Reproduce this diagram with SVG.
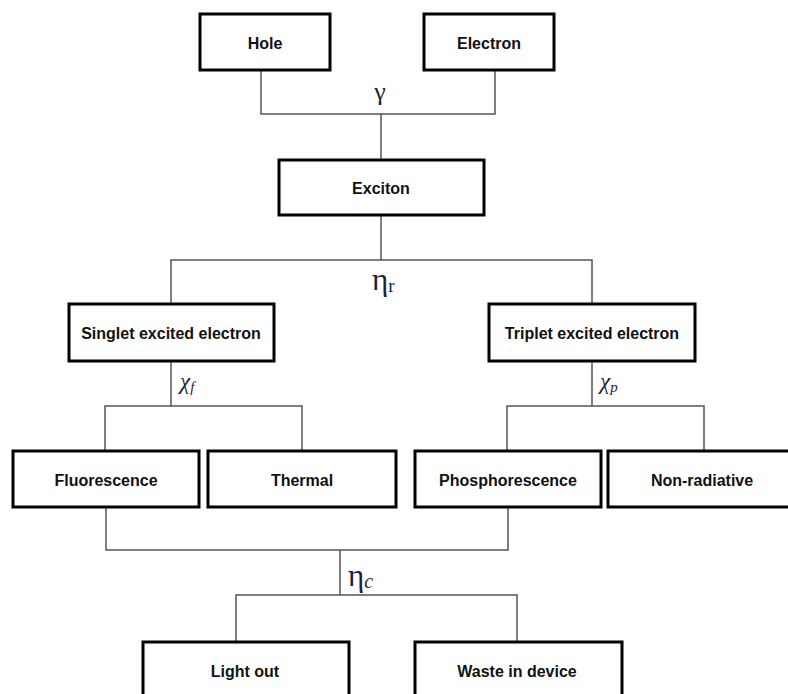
<svg xmlns="http://www.w3.org/2000/svg" width="788" height="694" viewBox="0 0 788 694">
<style>
.box{fill:#fff;stroke:#000;stroke-width:3}
.lbl{font-family:"Liberation Sans",Arial,sans-serif;font-weight:bold;font-size:16px;fill:#111;text-anchor:middle;dominant-baseline:central}
.conn{fill:none;stroke:#555;stroke-width:1.5}
.gk{font-family:"Liberation Serif","DejaVu Serif",serif;fill:#1e1e3c}
</style>
<rect width="788" height="694" fill="#fff"/>
<g id="connectors">
<path class="conn" d="M261 71V114H495V71M381 114V159"/>
<path class="conn" d="M381 216V260M171 303V260H592V303"/>
<path class="conn" d="M171 362V406M105 450V406H302V450"/>
<path class="conn" d="M592 362V406M507 450V406H704V450"/>
<path class="conn" d="M106 508V550H508V508M340 550V595M236 641V595H517V641"/>
</g>
<g id="labels">
<text class="gk" x="380" y="100" font-size="26" text-anchor="middle">γ</text>
<text class="gk" x="372" y="290" font-size="31">η<tspan font-size="19" dy="2">r</tspan></text>
<text class="gk" x="180" y="389" font-size="23" font-style="italic">χ<tspan font-size="15" dy="3">f</tspan></text>
<text class="gk" x="600" y="389" font-size="23" font-style="italic">χ<tspan font-size="15" dy="3">p</tspan></text>
<text class="gk" x="348" y="586" font-size="31">η<tspan font-size="20" dy="2" font-style="italic">c</tspan></text>
</g>
<g id="hole"><rect class="box" x="200" y="14" width="130" height="56"/><text class="lbl" x="265" y="43">Hole</text></g>
<g id="electron"><rect class="box" x="424" y="14" width="130" height="56"/><text class="lbl" x="489" y="43">Electron</text></g>
<g id="exciton"><rect class="box" x="279" y="160" width="205" height="55"/><text class="lbl" x="381" y="188">Exciton</text></g>
<g id="singlet"><rect class="box" x="69" y="304" width="205" height="57"/><text class="lbl" x="171" y="333">Singlet excited electron</text></g>
<g id="triplet"><rect class="box" x="489" y="304" width="206" height="57"/><text class="lbl" x="592" y="333">Triplet excited electron</text></g>
<g id="fluorescence"><rect class="box" x="13" y="451" width="186" height="56"/><text class="lbl" x="106" y="480">Fluorescence</text></g>
<g id="thermal"><rect class="box" x="208" y="451" width="188" height="56"/><text class="lbl" x="302" y="480">Thermal</text></g>
<g id="phosphorescence"><rect class="box" x="415" y="451" width="186" height="56"/><text class="lbl" x="508" y="480">Phosphorescence</text></g>
<g id="nonradiative"><rect class="box" x="608" y="451" width="192" height="56"/><text class="lbl" x="702" y="480">Non-radiative</text></g>
<g id="lightout"><rect class="box" x="143" y="642" width="206" height="70"/><text class="lbl" x="245" y="671">Light out</text></g>
<g id="waste"><rect class="box" x="415" y="642" width="207" height="70"/><text class="lbl" x="517" y="671">Waste in device</text></g>
</svg>
